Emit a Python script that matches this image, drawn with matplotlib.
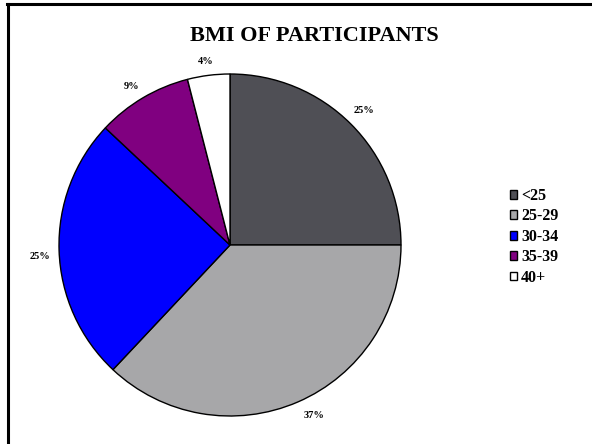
import matplotlib
matplotlib.use("Agg")
import matplotlib.pyplot as plt
from matplotlib.lines import Line2D

categories = ["<25", "25-29", "30-34", "35-39", "40+"]
shares = [25, 37, 25, 9, 4]
colors = ["#4f4f55", "#a7a7a9", "#0000ff", "#800080", "#ffffff"]

W, H = 592, 444
fig = plt.figure(figsize=(W / 100, H / 100), dpi=100)
fig.patch.set_facecolor("white")
plt.rcParams["font.family"] = ["Liberation Serif", "DejaVu Serif"]

# pie axes: centre (230, 245) px, radius 171 px
cx, cy, r = 230, 245, 171
ax = fig.add_axes([(cx - r) / W, (H - cy - r) / H, 2 * r / W, 2 * r / H])
ax.axis("off")

wedges, texts = ax.pie(
    shares,
    colors=colors,
    startangle=90,
    counterclock=False,
    radius=1,
    labels=[f"{v}%" for v in shares],
    labeldistance=1.11,
    wedgeprops=dict(edgecolor="black", linewidth=1.0),
    textprops=dict(fontsize=7.5, fontweight="bold", ha="center", va="center"),
)
ax.set_xlim(-1, 1)
ax.set_ylim(-1, 1)
ax.set_aspect("equal")

# small nudges of the percentage labels (in data units)
nudges = [(0.0, 0.0), (0.05, 0.02), (0.0, -0.035), (-0.01, -0.03), (0.0, -0.03)]
for t, (dx, dy) in zip(texts, nudges):
    t.set_horizontalalignment("center")
    t.set_clip_on(False)
    x, y = t.get_position()
    t.set_position((x + dx, y + dy))

fig.text(314 / W, 1 - 36 / H, "BMI OF PARTICIPANTS", ha="center", va="center",
         fontsize=16, fontweight="bold")

leg = fig.legend(
    wedges, categories,
    loc="upper left",
    bbox_to_anchor=(510 / W, 1 - 188 / H),
    frameon=False,
    prop=dict(size=11.5, weight="bold"),
    handlelength=0.45, handleheight=0.45, handletextpad=0.25,
    labelspacing=0.28, borderaxespad=0, borderpad=0,
)

# outer frame (left and top edges)
fig.add_artist(Line2D([7.5 / W, 7.5 / W], [0, 1 - 4 / H], color="black", linewidth=2.2,
                      transform=fig.transFigure))
fig.add_artist(Line2D([6.5 / W, 1], [1 - 4 / H, 1 - 4 / H], color="black", linewidth=2.2,
                      transform=fig.transFigure))

fig.savefig("out.png", dpi=100, facecolor="white")
